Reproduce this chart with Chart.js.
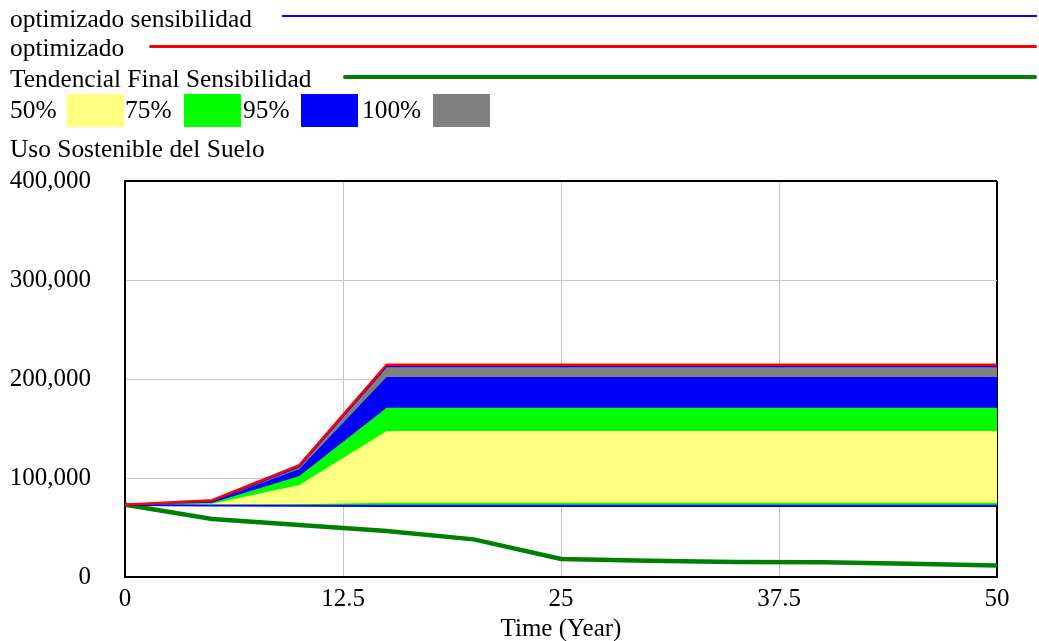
<!DOCTYPE html>
<html>
<head>
<meta charset="utf-8">
<script src="https://cdn.jsdelivr.net/npm/chart.js@4"></script>
<style>
body{margin:0;background:#fff;font-family:"Liberation Serif","Times New Roman",serif;}
#wrap{position:relative;width:1039px;height:641px;}
#wrap canvas{position:absolute;left:0;top:0;}
.t{position:absolute;font-size:25.4px;line-height:25px;color:#000;white-space:nowrap;}
.ln{position:absolute;right:2px;}
.sw{position:absolute;top:94px;height:33px;width:57px;}
</style>
</head>
<body>
<div id="wrap">
<canvas id="c" width="1039" height="641"></canvas>
<div class="t" style="left:10px;top:6px">optimizado sensibilidad</div>
<div class="ln" style="left:282px;top:15px;height:2px;background:#0000ff"></div>
<div class="t" style="left:10px;top:35px">optimizado</div>
<div class="ln" style="left:149px;top:45px;height:3px;background:#ff0000;border-radius:2px"></div>
<div class="t" style="left:10px;top:66px">Tendencial Final Sensibilidad</div>
<div class="ln" style="left:343px;top:75px;height:4px;background:#008000;border-radius:2px"></div>
<div class="t" style="left:10px;top:97px">50%</div>
<div class="sw" style="left:67px;background:#ffff80"></div>
<div class="t" style="left:125px;top:97px">75%</div>
<div class="sw" style="left:184px;background:#00ff00"></div>
<div class="t" style="left:243px;top:97px">95%</div>
<div class="sw" style="left:301px;background:#0000ff"></div>
<div class="t" style="left:362px;top:97px">100%</div>
<div class="sw" style="left:433px;background:#808080"></div>
<div class="t" style="left:10px;top:136px">Uso Sostenible del Suelo</div>
</div>
<script>

let years=[0,5,10,15,20,25,30,35,40,45,50]

let optimizado=[73000,77500,113000,214500,214500,214500,214500,214500,214500,214500,214500]
let optimizadoSens=[72800,72200,71900,71800,71800,71800,71800,71800,71800,71800,71800]
let tendencial=[73000,58500,52500,46500,38000,18200,16500,15200,15000,13300,11500]

// sensitivity bands (upper / lower bounds)
let p100hi=[73000,76500,111500,212600,212600,212600,212600,212600,212600,212600,212600]
let p100lo=[73000,72000,71800,71800,71800,71800,71800,71800,71800,71800,71800]
let p95hi=[73000,76000,109000,202000,202000,202000,202000,202000,202000,202000,202000]
let p95lo=[73000,72100,72000,72000,72000,72000,72000,72000,72000,72000,72000]
let p75hi=[73000,75000,102000,171000,171000,171000,171000,171000,171000,171000,171000]
let p75lo=[73000,72500,72800,73000,73000,73000,73000,73000,73000,73000,73000]
let p50hi=[73000,74000,93000,147500,147500,147500,147500,147500,147500,147500,147500]
let p50lo=[73000,72700,73500,75000,75000,75000,75000,75000,75000,75000,75000]

let xTicks=[0,12.5,25,37.5,50]
let yTicks=[0,100000,200000,300000,400000]

function pts(arr){
return arr.map((v,i)=>({x:years[i],y:v}))
}

function band(arr,color,fill,border){
return {data:pts(arr),backgroundColor:color,borderColor:border||color,borderWidth:border?1.5:0,fill:fill,pointRadius:0,tension:0}
}

let FONT="'Liberation Serif','Times New Roman',serif"

new Chart(document.getElementById("c"),{
type:"line",
data:{
datasets:[
{label:"optimizado",data:pts(optimizado),borderColor:"#ff0000",borderWidth:2.5,pointRadius:0,fill:false,tension:0},
{label:"optimizado sensibilidad",data:pts(optimizadoSens),borderColor:"#0000ff",borderWidth:2,pointRadius:0,fill:false,tension:0},
{label:"Tendencial Final Sensibilidad",data:pts(tendencial),borderColor:"#008000",borderWidth:4.5,pointRadius:0,fill:false,tension:0},
band(p50hi,"#ffff80","+1"),
band(p50lo,"#ffff80",false),
band(p75hi,"#00ff00","+1"),
band(p75lo,"#00ff00",false),
band(p95hi,"#0000ff","+1"),
band(p95lo,"#0000ff",false),
band(p100hi,"#808080","+1","#0000ff"),
band(p100lo,"#808080",false)
]
},
options:{
responsive:false,
animation:false,
layout:{padding:{left:0,top:181,right:42,bottom:0}},
plugins:{legend:{display:false},tooltip:{enabled:false}},
scales:{
x:{
type:"linear",min:0,max:50,
afterFit:s=>{s.height=64},
afterBuildTicks:s=>{s.ticks=xTicks.map(v=>({value:v}))},
ticks:{color:"#000",font:{family:FONT,size:25},padding:7,maxRotation:0,callback:v=>String(v)},
grid:{drawTicks:false,color:c=>c.tick&&c.tick.value==50?"#000":"#c8c8c8",lineWidth:c=>c.tick&&c.tick.value==50?2:1},
border:{color:"#000",width:2},
title:{display:true,text:"Time (Year)",color:"#000",font:{family:FONT,size:25},padding:{top:0,bottom:-3}}
},
y:{
min:0,max:400000,
afterFit:s=>{s.width=125},
afterBuildTicks:s=>{s.ticks=yTicks.map(v=>({value:v}))},
ticks:{color:"#000",font:{family:FONT,size:25},padding:34,callback:v=>v.toLocaleString("en-US")},
grid:{drawTicks:false,color:c=>c.tick&&c.tick.value==400000?"#000":"#c8c8c8",lineWidth:c=>c.tick&&c.tick.value==400000?2:1},
border:{color:"#000",width:2}
}
}
}
})

</script>
</body>
</html>
